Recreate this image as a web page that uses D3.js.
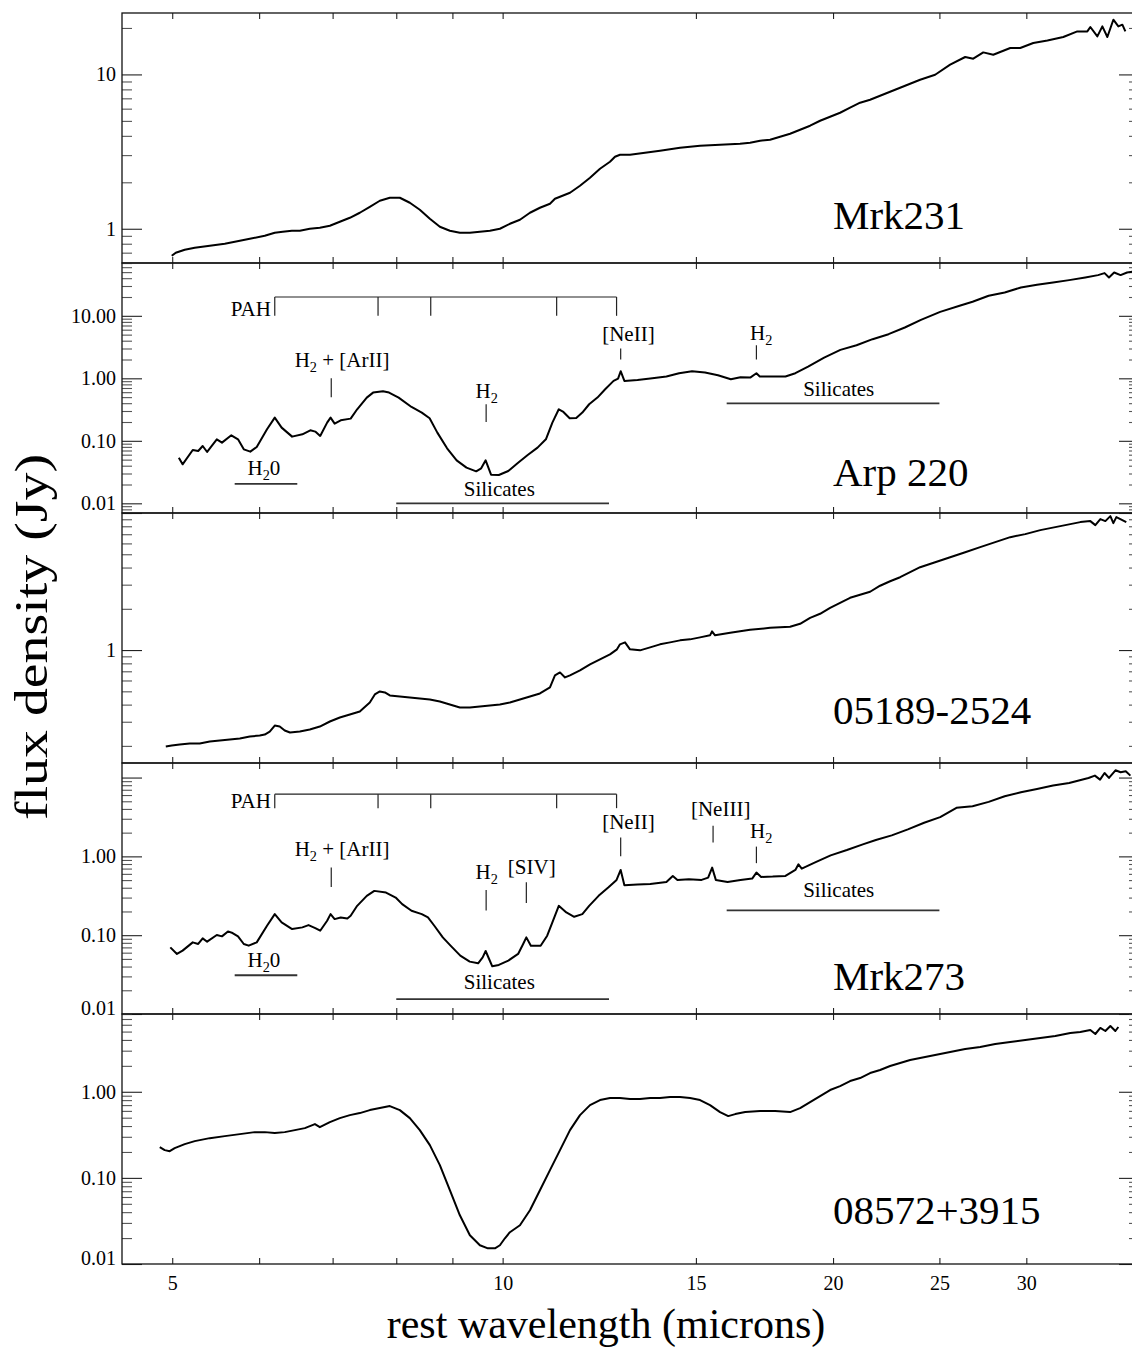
<!DOCTYPE html>
<html><head><meta charset="utf-8">
<script src="https://cdn.jsdelivr.net/npm/d3@7"></script>
<style>body{margin:0;background:#fff} text{font-family:"Liberation Serif","Times New Roman",serif;}</style>
</head><body><svg id="c" width="1132" height="1359"></svg>
<script>
// ---------------- data ----------------
const objectNames = ["Mrk231", "Arp 220", "05189-2524", "Mrk273", "08572+3915"];
const xMajorTicks = [5, 10, 15, 20, 25, 30];
const xMinorTicks = [6, 7, 8, 9];
const yDomains = [[0.6, 25], [0.007, 70], [0.15, 10], [0.01, 15.3], [0.01, 8]];
const yLabelValues = [[10, 1], [10, 1, 0.1, 0.01], [1], [1, 0.1, 0.01], [1, 0.1, 0.01]];
const yLabelTexts = [["10", "1"], ["10.00", "1.00", "0.10", "0.01"], ["1"], ["1.00", "0.10", "0.01"], ["1.00", "0.10", "0.01"]];

const mrk231Wavelength = [4.995,5.037,5.133,5.242,5.41,5.583,5.762,5.884,6.071,6.2,6.305,6.426,6.535,6.673,6.815,6.96,7.107,7.258,7.411,7.568,7.729,7.893,8.06,8.231,8.405,8.584,8.766,8.952,9.142,9.336,9.534,9.737,9.943,10.154,10.37,10.59,10.814,11.044,11.16,11.279,11.518,11.762,12.012,12.266,12.526,12.658,12.792,13.063,13.481,13.912,14.509,15.131,15.779,16.456,16.805,17.162,17.525,17.897,18.277,18.665,19.06,19.464,19.877,20.298,20.728,21.168,21.617,22.075,22.543,23.022,23.51,24.008,24.777,25.57,26.389,26.84,27.41,27.99,29.005,29.62,30.44,31.36,32.421,33.387,34.096,34.312,34.82,35.188,35.559,36.01,36.39,36.697,36.928];
const mrk231Flux = [0.668,0.699,0.731,0.753,0.776,0.799,0.836,0.861,0.901,0.942,0.956,0.971,0.971,1.0,1.015,1.046,1.11,1.178,1.27,1.388,1.519,1.588,1.588,1.474,1.328,1.161,1.03,0.971,0.942,0.942,0.956,0.971,1.0,1.077,1.144,1.27,1.368,1.452,1.564,1.612,1.711,1.9,2.141,2.448,2.718,2.929,3.018,3.018,3.109,3.203,3.35,3.452,3.503,3.556,3.609,3.718,3.773,3.946,4.127,4.382,4.651,5.011,5.319,5.646,6.085,6.555,6.855,7.278,7.726,8.201,8.706,9.242,9.954,11.56,12.97,12.64,13.89,13.42,14.83,14.83,15.98,16.61,17.48,19.0,19.0,20.29,17.63,20.47,17.48,22.62,20.47,21.0,19.0];

const arp220Wavelength = [5.07,5.11,5.22,5.28,5.33,5.38,5.49,5.55,5.66,5.74,5.81,5.89,5.97,6.10,6.20,6.29,6.43,6.57,6.68,6.75,6.82,6.92,6.97,7.03,7.12,7.27,7.37,7.52,7.62,7.78,7.88,8.04,8.26,8.44,8.58,8.72,8.90,9.08,9.27,9.46,9.56,9.65,9.76,9.92,10.12,10.33,10.54,10.76,10.95,11.10,11.25,11.36,11.51,11.67,11.82,11.99,12.20,12.40,12.62,12.74,12.81,12.91,13.27,13.63,14.10,14.48,14.88,15.29,15.71,16.14,16.47,16.81,17.03,17.15,17.62,18.10,18.48,18.98,19.63,20.31,21.01,21.73,22.47,23.25,24.05,25.04,26.08,26.80,27.72,28.67,29.66,30.68,31.73,32.82,33.95,34.87,35.35,35.68,36.07,36.56,37.06,37.47];
const arp220Flux = [0.0538,0.0421,0.0714,0.0688,0.0827,0.0663,0.1057,0.0935,0.1225,0.1057,0.0731,0.0671,0.0797,0.1529,0.235,0.1626,0.1167,0.1272,0.1474,0.1404,0.1196,0.1956,0.235,0.1884,0.2131,0.2266,0.3197,0.4916,0.591,0.621,0.591,0.4916,0.3484,0.2827,0.2294,0.1352,0.0759,0.0487,0.0372,0.0325,0.0363,0.0487,0.0287,0.0284,0.0329,0.0447,0.0593,0.0778,0.1057,0.1956,0.3197,0.2898,0.2294,0.2322,0.2827,0.3846,0.4916,0.668,0.909,0.991,1.299,0.909,0.943,0.991,1.067,1.206,1.299,1.236,1.121,0.967,1.041,1.028,1.206,1.067,1.067,1.067,1.206,1.543,2.149,2.852,3.388,4.228,5.083,6.5,8.627,11.58,14.45,16.76,20.9,23.64,28.43,31.37,34.18,37.25,41.1,44.8,48.2,41.1,49.4,44.8,49.4,50.7];

const iras05189Wavelength = [4.933,4.995,5.079,5.187,5.297,5.41,5.525,5.642,5.762,5.884,6.008,6.071,6.135,6.2,6.265,6.331,6.401,6.535,6.673,6.815,6.96,7.107,7.258,7.411,7.568,7.648,7.729,7.811,7.893,8.06,8.231,8.405,8.584,8.766,8.952,9.142,9.336,9.534,9.737,9.943,10.154,10.37,10.59,10.814,11.044,11.16,11.279,11.398,11.518,11.762,12.012,12.266,12.526,12.711,12.792,12.927,13.063,13.34,13.626,13.912,14.208,14.509,14.817,15.131,15.451,15.516,15.614,16.119,16.805,17.525,18.277,18.665,19.06,19.464,19.877,20.298,20.728,21.168,21.617,22.075,22.543,23.022,23.51,24.008,24.777,25.57,26.389,27.233,28.105,29.005,29.933,30.892,31.88,32.9,33.598,34.312,34.674,35.04,35.41,35.784,36.01,36.237,36.543,37.0];
const iras05189Flux = [0.1977,0.201,0.2045,0.208,0.208,0.2151,0.2187,0.2225,0.2262,0.234,0.2379,0.2419,0.2544,0.2815,0.2768,0.2588,0.2503,0.2544,0.2633,0.2768,0.3012,0.3221,0.3388,0.3563,0.4147,0.4744,0.4989,0.4906,0.4665,0.4587,0.451,0.4434,0.436,0.4217,0.4009,0.3812,0.3812,0.3877,0.3943,0.4009,0.4147,0.436,0.4587,0.4825,0.5338,0.6533,0.6871,0.6316,0.6533,0.7106,0.7861,0.855,0.9302,1.012,1.101,1.138,1.012,0.995,1.046,1.101,1.138,1.177,1.197,1.238,1.281,1.37,1.281,1.336,1.405,1.453,1.478,1.554,1.719,1.84,2.035,2.213,2.407,2.532,2.663,2.947,3.178,3.4,3.698,4.023,4.377,4.761,5.178,5.633,6.128,6.665,7.012,7.499,7.886,8.297,8.581,8.727,8.157,9.025,8.727,9.491,8.438,9.333,9.025,8.581];

const mrk273Wavelength = [4.98,5.05,5.11,5.22,5.28,5.33,5.38,5.49,5.55,5.62,5.675,5.74,5.81,5.87,5.97,6.10,6.20,6.29,6.43,6.57,6.655,6.75,6.82,6.92,6.97,7.03,7.12,7.22,7.27,7.37,7.52,7.64,7.83,7.99,8.10,8.26,8.44,8.55,8.665,8.82,8.965,9.15,9.333,9.499,9.59,9.65,9.72,9.785,9.92,10.12,10.33,10.44,10.51,10.61,10.83,10.98,11.10,11.25,11.43,11.62,11.82,11.99,12.23,12.48,12.70,12.81,12.91,13.27,13.63,14.10,14.29,14.43,14.78,15.18,15.39,15.52,15.64,16.03,16.47,16.88,17.03,17.20,17.62,18.10,18.48,18.60,18.73,19.24,19.90,20.59,21.29,21.88,22.62,23.40,24.21,25.04,25.91,26.80,27.72,28.67,29.66,30.68,31.73,32.82,34.18,34.64,35.02,35.35,35.68,36.17,36.56,36.96,37.32];
const mrk273Flux = [0.0701,0.0578,0.0637,0.0811,0.0773,0.0911,0.0827,0.1004,0.0966,0.1117,0.1064,0.0966,0.0773,0.0736,0.0811,0.1317,0.185,0.1452,0.1196,0.1256,0.1343,0.1231,0.1139,0.1524,0.185,0.16,0.168,0.1631,0.1763,0.2358,0.3155,0.3649,0.3476,0.3005,0.2475,0.2039,0.185,0.168,0.1317,0.0938,0.0736,0.055,0.0462,0.044,0.0524,0.063,0.0499,0.0403,0.0419,0.0476,0.0578,0.0773,0.0938,0.0736,0.0736,0.0985,0.1452,0.2358,0.1942,0.1713,0.185,0.2358,0.3155,0.402,0.5028,0.6725,0.4303,0.4388,0.4473,0.4742,0.5648,0.5028,0.5126,0.5028,0.538,0.72,0.5028,0.4742,0.5028,0.5226,0.6223,0.5485,0.5539,0.5648,0.6725,0.7931,0.6993,0.8325,1.031,1.204,1.42,1.611,1.845,2.197,2.668,3.146,4.128,4.334,4.916,5.798,6.514,7.177,7.907,8.547,9.886,10.58,9.417,11.43,9.886,12.36,11.66,12.0,10.58];

const iras08572Wavelength = [4.871,4.922,4.974,5.026,5.133,5.242,5.41,5.583,5.762,5.945,6.071,6.2,6.331,6.467,6.604,6.745,6.815,6.96,7.107,7.258,7.411,7.568,7.729,7.893,8.06,8.231,8.405,8.584,8.766,8.952,9.142,9.336,9.534,9.696,9.84,9.943,10.048,10.154,10.37,10.59,10.814,11.044,11.279,11.518,11.762,12.012,12.266,12.526,12.792,13.063,13.34,13.626,13.912,14.208,14.509,14.817,15.131,15.451,15.779,16.052,16.29,16.635,17.162,17.711,18.277,18.665,19.06,19.464,19.877,20.298,20.728,21.168,21.617,22.075,22.543,23.022,23.51,24.008,24.777,25.57,26.389,27.233,28.105,29.005,29.933,30.892,31.88,32.9,33.598,34.312,34.674,35.04,35.41,35.784,36.161,36.39];
const iras08572Flux = [0.2275,0.21,0.2044,0.2215,0.2465,0.2672,0.2894,0.3054,0.3222,0.3399,0.3399,0.3311,0.3399,0.3586,0.3784,0.4211,0.3886,0.4443,0.4945,0.5358,0.5655,0.6125,0.6462,0.6821,0.6125,0.4945,0.3586,0.2399,0.1405,0.0719,0.0368,0.0216,0.0165,0.0152,0.0152,0.0165,0.0199,0.0234,0.0282,0.0421,0.0719,0.1229,0.21,0.3586,0.5358,0.7003,0.8007,0.8448,0.8448,0.8223,0.8223,0.8448,0.8448,0.8677,0.8677,0.8448,0.8007,0.7003,0.5807,0.5217,0.5505,0.5807,0.5966,0.5966,0.5807,0.6462,0.7589,0.8913,1.047,1.165,1.331,1.443,1.65,1.788,1.99,2.157,2.337,2.465,2.672,2.894,3.137,3.311,3.587,3.784,3.992,4.211,4.443,4.815,4.946,5.218,4.688,5.505,5.079,5.808,5.079,5.652];

// feature wavelengths (microns)
const pahBands = [6.2, 7.7, 8.6, 11.2, 12.7];

// ---------------- layout ----------------
const W = 1132, H = 1359;
const plotLeft = 122, plotRight = 1139;
const panelTop = [13, 263, 513, 763, 1014];
const panelBottom = [263, 513, 763, 1014, 1264];
const nameBaseline = [229, 486, 724, 990, 1224];
const nameX = 833;

// annotation placement (wavelength, flux in panel units)
const annotations = {
  1: {
    pah: {bar: 20, tickEnd: 10, labelWl: 6.15, labelF: 10},
    lines: [
      {wl: 6.98, top: 1.0, bottom: 0.5, text: [["H"], ["2", 1], [" + [ArII]"]], lx: 7.14, lf: 1.54},
      {wl: 9.66, top: 0.384, bottom: 0.2, text: [["H"], ["2", 1]], lx: 9.67, lf: 0.49},
      {wl: 12.81, top: 3.0, bottom: 2.0, text: [["[NeII]"]], lx: 13.02, lf: 4.0},
      {wl: 17.03, top: 3.38, bottom: 2.0, text: [["H"], ["2", 1]], lx: 17.2, lf: 4.13}
    ],
    ranges: [
      {from: 5.7, to: 6.5, f: 0.0204, text: [["H"], ["2", 1], ["0"]], lx: 6.06, lf: 0.028},
      {from: 8.0, to: 12.5, f: 0.01, text: [["Silicates"]], lx: 9.93, lf: 0.0131},
      {from: 16, to: 25, f: 0.398, text: [["Silicates"]], lx: 20.24, lf: 0.523}
    ]
  },
  3: {
    pah: {bar: 6.15, tickEnd: 4.09, labelWl: 6.15, labelF: 4.1},
    lines: [
      {wl: 6.98, top: 0.72, bottom: 0.41, text: [["H"], ["2", 1], [" + [ArII]"]], lx: 7.14, lf: 1.0},
      {wl: 9.66, top: 0.374, bottom: 0.206, text: [["H"], ["2", 1]], lx: 9.67, lf: 0.52},
      {wl: 10.51, top: 0.469, bottom: 0.256, text: [["[SIV]"]], lx: 10.63, lf: 0.59},
      {wl: 12.81, top: 1.74, bottom: 1.0, text: [["[NeII]"]], lx: 13.02, lf: 2.2},
      {wl: 15.55, top: 2.45, bottom: 1.5, text: [["[NeIII]"]], lx: 15.8, lf: 3.3},
      {wl: 17.03, top: 1.33, bottom: 0.82, text: [["H"], ["2", 1]], lx: 17.2, lf: 1.72}
    ],
    ranges: [
      {from: 5.7, to: 6.5, f: 0.031, text: [["H"], ["2", 1], ["0"]], lx: 6.06, lf: 0.039},
      {from: 8.0, to: 12.5, f: 0.0154, text: [["Silicates"]], lx: 9.93, lf: 0.0208},
      {from: 16, to: 25, f: 0.206, text: [["Silicates"]], lx: 20.24, lf: 0.307}
    ]
  }
};

const spectra = [
  [mrk231Wavelength, mrk231Flux],
  [arp220Wavelength, arp220Flux],
  [iras05189Wavelength, iras05189Flux],
  [mrk273Wavelength, mrk273Flux],
  [iras08572Wavelength, iras08572Flux]
];

// ---------------- drawing ----------------
const svg = d3.select("#c");
svg.append("rect").attr("width", W).attr("height", H).attr("fill", "#fff");
const x = d3.scaleLog().domain([4.5, 38]).range([plotLeft, plotRight]);
const FONT = "Liberation Serif, Times New Roman, serif";

function richText(g, parts, px, py, anchor, size) {
  const t = g.append("text").attr("x", px).attr("y", py).attr("text-anchor", anchor)
    .attr("font-size", size).attr("font-family", FONT).attr("fill", "#000");
  let shifted = false;
  parts.forEach(p => {
    const ts = t.append("tspan").text(p[0]);
    if (p[1]) { ts.attr("dy", 5).attr("font-size", size * 0.68); shifted = true; }
    else if (shifted) { ts.attr("dy", -5); shifted = false; }
  });
  return t;
}

yDomains.forEach((dom, i) => {
  const y = d3.scaleLog().domain(dom).range([panelBottom[i], panelTop[i]]);
  const g = svg.append("g");

  // tick values
  const majors = [], minors = [];
  for (let e = Math.floor(Math.log10(dom[0])) ; e <= Math.ceil(Math.log10(dom[1])); e++) {
    for (let m = 1; m <= 9; m++) {
      const v = +(m * Math.pow(10, e)).toPrecision(6);
      if (v >= dom[0] * 0.999 && v <= dom[1] * 1.001) (m === 1 ? majors : minors).push(v);
    }
  }
  const labelFor = v => {
    const k = yLabelValues[i].findIndex(u => Math.abs(u - v) / u < 1e-6);
    return k >= 0 ? yLabelTexts[i][k] : "";
  };

  // left axis (ticks inward)
  const leftMaj = g.append("g").attr("transform", `translate(${plotLeft},0)`)
    .call(d3.axisLeft(y).tickValues(majors).tickSize(-20).tickPadding(6).tickFormat(labelFor));
  const leftMin = g.append("g").attr("transform", `translate(${plotLeft},0)`)
    .call(d3.axisLeft(y).tickValues(minors).tickSize(-10).tickFormat(""));
  // right axis
  const rightMaj = g.append("g").attr("transform", `translate(${plotRight},0)`)
    .call(d3.axisRight(y).tickValues(majors).tickSize(-20).tickFormat(""));
  const rightMin = g.append("g").attr("transform", `translate(${plotRight},0)`)
    .call(d3.axisRight(y).tickValues(minors).tickSize(-10).tickFormat(""));
  // x ticks top and bottom
  const xTicks = xMajorTicks.concat(xMinorTicks);
  const topAx = g.append("g").attr("transform", `translate(0,${panelTop[i]})`)
    .call(d3.axisBottom(x).tickValues(xTicks).tickSize(6).tickFormat(""));
  const botAx = g.append("g").attr("transform", `translate(0,${panelBottom[i]})`)
    .call(d3.axisBottom(x).tickValues(xTicks).tickSize(-6).tickPadding(12)
      .tickFormat(i === yDomains.length - 1 ? (v => xMajorTicks.includes(v) ? String(v) : "") : ""));

  [leftMaj, rightMaj, topAx, botAx].forEach(a => {
    a.select(".domain").remove();
    a.selectAll("line").attr("stroke", "#222").attr("stroke-width", 1.1);
    a.selectAll("text").attr("font-family", FONT).attr("font-size", 20).attr("fill", "#000");
  });
  [leftMin, rightMin].forEach(a => {
    a.select(".domain").remove();
    a.selectAll("line").attr("stroke", "#555").attr("stroke-width", 1.1);
  });
  // label sitting on the bottom edge is drawn just above it
  leftMaj.selectAll(".tick").filter(d => Math.abs(y(d) - panelBottom[i]) < 2)
    .select("text").attr("dy", "0.0em");

  // spectrum
  const data = d3.zip(spectra[i][0], spectra[i][1]);
  g.append("path").datum(data)
    .attr("d", d3.line().x(d => x(d[0])).y(d => y(d[1])))
    .attr("fill", "none").attr("stroke", "#000").attr("stroke-width", 2)
    .attr("stroke-linejoin", "round");

  // frame
  g.append("rect").attr("x", plotLeft).attr("y", panelTop[i])
    .attr("width", plotRight - plotLeft).attr("height", panelBottom[i] - panelTop[i])
    .attr("fill", "none").attr("stroke", "#111").attr("stroke-width", 1.3);

  // object name
  g.append("text").attr("x", nameX).attr("y", nameBaseline[i]).attr("font-size", 41)
    .attr("font-family", FONT).attr("fill", "#000").text(objectNames[i]);

  // annotations
  const an = annotations[i];
  if (an) {
    const ag = g.append("g").attr("stroke", "#222").attr("stroke-width", 1.2);
    ag.append("line").attr("x1", x(pahBands[0])).attr("x2", x(pahBands[pahBands.length - 1]))
      .attr("y1", y(an.pah.bar)).attr("y2", y(an.pah.bar));
    pahBands.forEach(b => ag.append("line").attr("x1", x(b)).attr("x2", x(b))
      .attr("y1", y(an.pah.bar)).attr("y2", y(an.pah.tickEnd)));
    richText(g, [["PAH"]], x(an.pah.labelWl), y(an.pah.labelF), "end", 21);
    an.lines.forEach(l => {
      ag.append("line").attr("x1", x(l.wl)).attr("x2", x(l.wl)).attr("y1", y(l.top)).attr("y2", y(l.bottom));
      richText(g, l.text, x(l.lx), y(l.lf), "middle", 21);
    });
    an.ranges.forEach(r => {
      g.append("line").attr("x1", x(r.from)).attr("x2", x(r.to)).attr("y1", y(r.f)).attr("y2", y(r.f))
        .attr("stroke", "#333").attr("stroke-width", 1.8);
      richText(g, r.text, x(r.lx), y(r.lf), "middle", 21);
    });
  }
});

// axis titles
svg.append("text").attr("x", 606).attr("y", 1338).attr("text-anchor", "middle")
  .attr("font-size", 42).attr("font-family", FONT).text("rest wavelength (microns)");
svg.append("text").attr("transform", "translate(47,637) rotate(-90)").attr("text-anchor", "middle")
  .attr("font-size", 46).attr("font-family", FONT)
  .attr("textLength", 366).attr("lengthAdjust", "spacingAndGlyphs")
  .text("flux density (Jy)");
</script>
</body></html>
